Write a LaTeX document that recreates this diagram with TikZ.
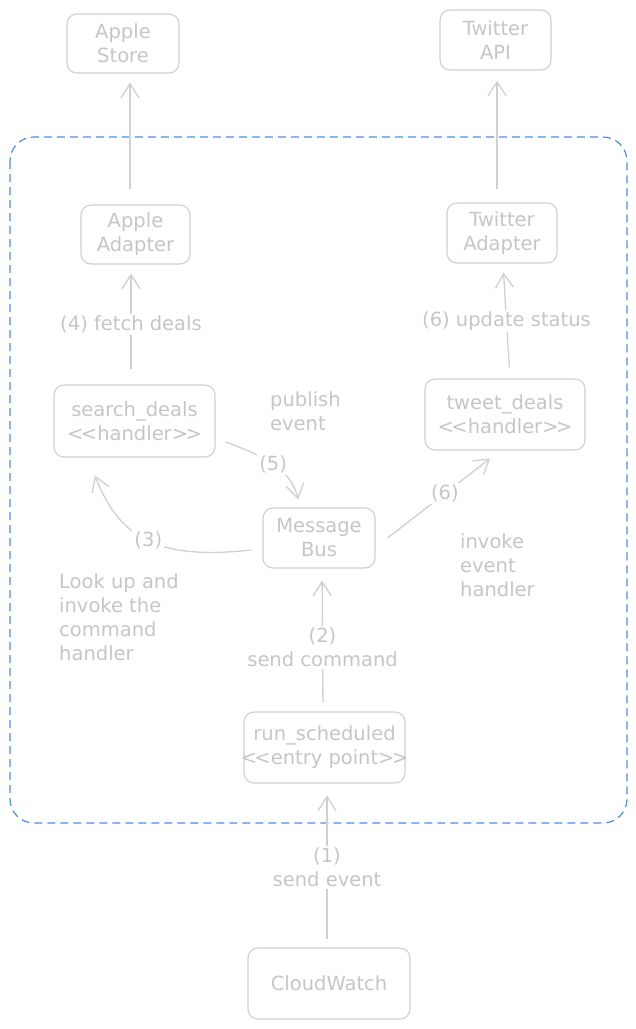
\documentclass[tikz,border=0pt]{standalone}
\usepackage{fontspec}
\setmainfont{DejaVu Sans}
\usetikzlibrary{arrows.meta}
\definecolor{lg}{RGB}{208,208,208}
\definecolor{tg}{RGB}{198,198,198}
\definecolor{db}{RGB}{74,144,226}
\newcommand\dgfont{\fontsize{19.5}{24}\selectfont}
\newcommand\dgll{<\kern-2.5pt<}
\newcommand\dgrr{>\kern-2.5pt>}
\begin{document}
\begin{tikzpicture}[x=1pt,y=-1pt,
 box/.style={draw=lg, line width=1.1pt, rounded corners=10pt, align=center, text=tg, inner sep=0pt, font=\dgfont},
 arr/.style={draw=lg, line width=1.3pt, -{Straight Barb[length=14pt,width=18pt]}},
 lbl/.style={text=tg, fill=white, align=center, inner sep=2pt, font=\dgfont},
 note/.style={text=tg, align=left, inner sep=0pt, font=\dgfont, anchor=north west}]
\fill[white] (0,0) rectangle (636,1029);
\useasboundingbox (0,0) rectangle (636,1029);

\draw[db, line width=1.2pt, dash pattern=on 8pt off 5pt, rounded corners=24pt] (10,137) rectangle (627,823);

\node[box, minimum width=112pt, minimum height=59pt] (as) at (123,43.5) {Apple\\Store};
\node[box, minimum width=111pt, minimum height=60pt] (ta) at (495.5,40) {Twitter\\API};
\node[box, minimum width=109pt, minimum height=59pt] (aa) at (135.5,234.5) {Apple\\Adapter};
\node[box, minimum width=110pt, minimum height=60pt] (tad) at (502,233) {Twitter\\Adapter};
\node[box, minimum width=161pt, minimum height=72pt] (sd) at (134.5,421) {search\_deals\\\dgll handler\dgrr};
\node[box, minimum width=160pt, minimum height=71pt] (td) at (505,414.5) {tweet\_deals\\\dgll handler\dgrr};
\node[box, minimum width=112pt, minimum height=60pt] (mb) at (319,538) {Message\\Bus};
\node[box, inner xsep=-4pt, minimum width=161pt, minimum height=71pt] (rs) at (324.5,747.5) {run\_scheduled\\\dgll entry point\dgrr};
\node[box, minimum width=162pt, minimum height=71pt] (cw) at (329,983.5) {CloudWatch};

\draw[arr, shorten <=15pt, shorten >=9pt] ([xshift=-5.5pt]aa.north) -- ([xshift=7pt]as.south);
\draw[arr, shorten <=13pt, shorten >=10pt] ([xshift=-5pt]tad.north) -- ([xshift=1.5pt]ta.south);
\draw[arr, shorten <=15pt, shorten >=9pt] ([xshift=-3.5pt]sd.north) -- node[lbl]{(4) fetch deals} ([xshift=-4.5pt]aa.south);
\draw[arr, shorten <=11pt, shorten >=9pt] ([xshift=5pt]td.north) -- node[lbl]{(6) update status} ([xshift=1pt]tad.south);
\draw[arr] ([xshift=-11pt,yshift=-12pt]mb.west) .. controls (160,560) and (120,540) .. ([xshift=-39.5pt,yshift=-18pt]sd.south) node[lbl,pos=0.5]{(3)};
\draw[arr] ([xshift=10pt,yshift=-21pt]sd.east) .. controls (262,455) and (292,470) .. ([xshift=-21pt,yshift=8pt]mb.north) node[lbl,pos=0.5]{(5)};
\draw[arr] ([xshift=12pt]mb.east) -- node[lbl,pos=0.56]{(6)} ([xshift=-15pt,yshift=-8pt]td.south);
\draw[arr, shorten <=9pt, shorten >=12pt] ([xshift=-1.5pt]rs.north) -- node[lbl,pos=0.45]{(2)\\send command} ([xshift=3pt]mb.south);
\draw[arr, shorten <=8pt, shorten >=12pt] ([xshift=-2pt]cw.north) -- node[lbl,pos=0.49]{(1)\\send event} ([xshift=2.5pt]rs.south);

\node[note] (n1) at (270,391) {publish\\event};
\node[note] (n2) at (59,573) {Look up and\\invoke the\\command\\handler};
\node[note] (n3) at (460,533) {invoke\\event\\handler};
\end{tikzpicture}
\end{document}
